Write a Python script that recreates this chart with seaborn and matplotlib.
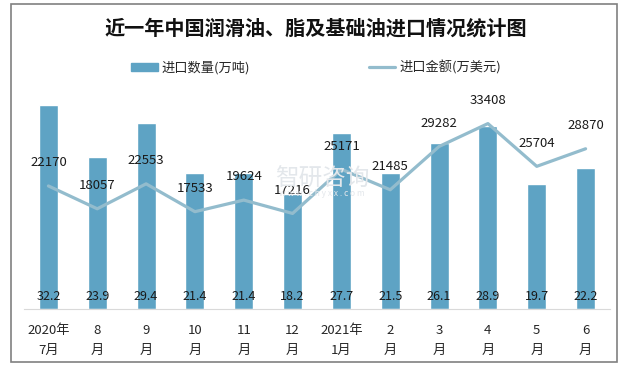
import seaborn as sns
import pandas as pd
import matplotlib.pyplot as plt
from matplotlib.patches import Rectangle
from matplotlib.lines import Line2D

months = ["2020年\n7月", "8\n月", "9\n月", "10\n月", "11\n月", "12\n月",
          "2021年\n1月", "2\n月", "3\n月", "4\n月", "5\n月", "6\n月"]
volume = [32.2, 23.9, 29.4, 21.4, 21.4, 18.2, 27.7, 21.5, 26.1, 28.9, 19.7, 22.2]
amount = [22170, 18057, 22553, 17533, 19624, 17216, 25171, 21485, 29282, 33408, 25704, 28870]

bar_color = "#5EA3C4"
line_color = "#93BCCD"

sns.set_style("white")
plt.rcParams["font.family"] = ["Noto Sans CJK SC", "DejaVu Sans"]

df = pd.DataFrame({"month": months, "volume": volume, "amount": amount})
df["pos"] = range(len(df))

fig = plt.figure(figsize=(6.26, 3.7), dpi=100)
ax = fig.add_axes([24 / 626, 61 / 370, 586 / 626, 222 / 370])

sns.barplot(data=df, x="month", y="volume", color=bar_color, width=0.39,
            saturation=1, ax=ax)
ax.set_ylim(0, 35)
ax.set_xlim(-0.5, 11.5)

ax2 = ax.twinx()
sns.lineplot(data=df, x="pos", y="amount", color=line_color, linewidth=2.3, ax=ax2)
ax2.set_ylim(0, 40000)

for a in (ax, ax2):
    a.set_xlabel("")
    a.set_ylabel("")
    a.set_yticks([])
    for s in ("top", "left", "right"):
        a.spines[s].set_visible(False)
ax2.spines["bottom"].set_visible(False)
ax.spines["bottom"].set_color("#d9d9d9")
ax.tick_params(axis="x", length=0, labelsize=9.5, pad=11)
for lbl in ax.get_xticklabels():
    lbl.set_linespacing(1.7)

for i, v in enumerate(volume):
    ax.text(i, 1.9, f"{v:.1f}", ha="center", va="center", fontsize=9,
            color="#1a1a1a")
for i, v in enumerate(amount):
    ax2.annotate(f"{v}", (i, v), xytext=(0, 12), textcoords="offset points",
                 ha="center", va="bottom", fontsize=9.5, color="#1a1a1a",
                 zorder=5)

# watermark
fig.text(0.44, 0.515, "智研咨询", fontsize=17, color="#e3e7eb", ha="left",
         va="center", zorder=0)
fig.text(0.445, 0.478, "w w w . c h y x x . c o m", fontsize=6, color="#e3e7eb",
         ha="left", va="center", zorder=0)

fig.text(0.505, 0.925, "近一年中国润滑油、脂及基础油进口情况统计图", ha="center",
         va="center", fontsize=14.5, fontweight="bold", color="#111111")

handles = [Rectangle((0, 0), 1, 1, color=bar_color),
           Line2D([0], [0], color=line_color, linewidth=2.3)]
fig.legend(handles, ["进口数量(万吨)", "进口金额(万美元)"], loc="center",
           bbox_to_anchor=(0.505, 0.818), ncol=2, frameon=False, fontsize=9.5,
           columnspacing=9, handlelength=2, handleheight=0.5, handletextpad=0.3)

fig.add_artist(Rectangle((10.5 / 626, 8 / 370), 606 / 626, 358 / 370,
                         transform=fig.transFigure, fill=False,
                         edgecolor="#808080", linewidth=1.2))

fig.savefig("out.png", dpi=100)
